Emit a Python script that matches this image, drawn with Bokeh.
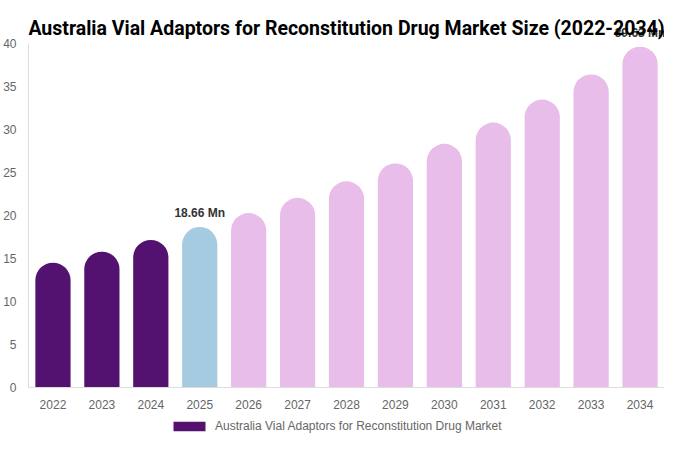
from bokeh.plotting import figure
from bokeh.models import (ColumnDataSource, FactorRange, Range1d, Legend, LegendItem,
                          Label, FixedTicker)
from bokeh.layouts import column
from bokeh.embed import file_html
from bokeh.resources import INLINE
from bokeh.core.properties import value

# ---- data ----
years = ["2022", "2023", "2024", "2025", "2026", "2027", "2028", "2029",
         "2030", "2031", "2032", "2033", "2034"]
market_size = [14.52, 15.79, 17.16, 18.66, 20.28, 22.05, 23.97, 26.06,
               28.33, 30.80, 33.48, 36.40, 39.63]
bar_colors = ["#541270", "#541270", "#541270", "#A4CBE0", "#E8BDE9", "#E8BDE9",
              "#E8BDE9", "#E8BDE9", "#E8BDE9", "#E8BDE9", "#E8BDE9", "#E8BDE9", "#E8BDE9"]
labeled_years = ["2025", "2034"]
series_name = "Australia Vial Adaptors for Reconstitution Drug Market"
title_text = "Australia Vial Adaptors for Reconstitution Drug Market Size (2022-2034)"
y_ticks = [0, 5, 10, 15, 20, 25, 30, 35, 40]

src = ColumnDataSource(dict(x=years, top=market_size, color=bar_colors))
lab_vals = [market_size[years.index(y)] for y in labeled_years]
lab_src = ColumnDataSource(dict(x=labeled_years, y=lab_vals,
                                txt=[f"{v:.2f} Mn" for v in lab_vals]))

W = 664
H_MAIN = 412
H_LEG = 22
FRAME_BOTTOM_PAD = 25
# headroom above the 40 tick so the top value label and title fit in the frame
Y_TOP = 45.0

p = figure(x_range=FactorRange(*years, range_padding=0), y_range=Range1d(0, Y_TOP),
           width=W, height=H_MAIN, output_backend="svg", toolbar_location=None,
           min_border_left=0, min_border_right=0, min_border_top=0,
           min_border_bottom=FRAME_BOTTOM_PAD)
p.outline_line_color = None
p.xgrid.grid_line_color = None
p.ygrid.grid_line_color = None
p.background_fill_color = "white"
p.border_fill_color = "white"

bars = p.vbar(x="x", top="top", width=0.72, source=src, fill_color="color",
              line_color=None, border_radius=(18, 18, 0, 0))

p.text(x="x", y="y", text="txt", source=lab_src, y_offset=-7,
       text_align="center", text_baseline="bottom",
       text_font=value("Liberation Sans"), text_font_size="12px",
       text_font_style="bold", text_color="#333333")

for ax in (p.xaxis[0], p.yaxis[0]):
    ax.major_tick_line_color = None
    ax.minor_tick_line_color = None
    ax.axis_line_color = "#DDDDDD"
    ax.major_label_text_font = "Liberation Sans"
    ax.major_label_text_font_size = "12px"
    ax.major_label_text_color = "#666666"

p.yaxis[0].ticker = FixedTicker(ticks=y_ticks)
p.yaxis[0].bounds = (0, 40)
p.yaxis[0].major_label_standoff = 6
p.xaxis[0].major_label_standoff = 6

title = Label(x=318, y=H_MAIN - FRAME_BOTTOM_PAD - 28, x_units="screen", y_units="screen",
              text=title_text, text_align="center", text_baseline="alphabetic",
              text_font="Roboto", text_font_size="19.5px", text_font_style="bold",
              text_color="#000000")
p.add_layout(title)

# ---- legend strip ----
leg = figure(width=W, height=H_LEG, output_backend="svg", toolbar_location=None,
             x_range=FactorRange(*years, range_padding=0), y_range=Range1d(0, 1),
             min_border_left=0, min_border_right=0, min_border_top=0, min_border_bottom=0,
             x_axis_location=None, y_axis_location=None)
leg.outline_line_color = None
leg.xgrid.grid_line_color = None
leg.ygrid.grid_line_color = None
leg_r = leg.vbar(x=years[:1], top=market_size[:1], width=0.72,
                 fill_color=bar_colors[0], line_color=None)
leg_r.visible = False
legend = Legend(items=[LegendItem(label=series_name, renderers=[leg_r])],
                location=(141, 1), orientation="horizontal",
                glyph_width=40, glyph_height=12, label_text_font="Liberation Sans",
                label_text_font_size="12px", label_text_color="#666666",
                border_line_color=None, background_fill_alpha=0,
                inactive_fill_alpha=0, click_policy="none",
                padding=0, margin=0, label_standoff=6, label_height=12)
leg.add_layout(legend)

layout = column(p, leg, spacing=0)
open("out.html", "w").write(file_html(layout, INLINE))
